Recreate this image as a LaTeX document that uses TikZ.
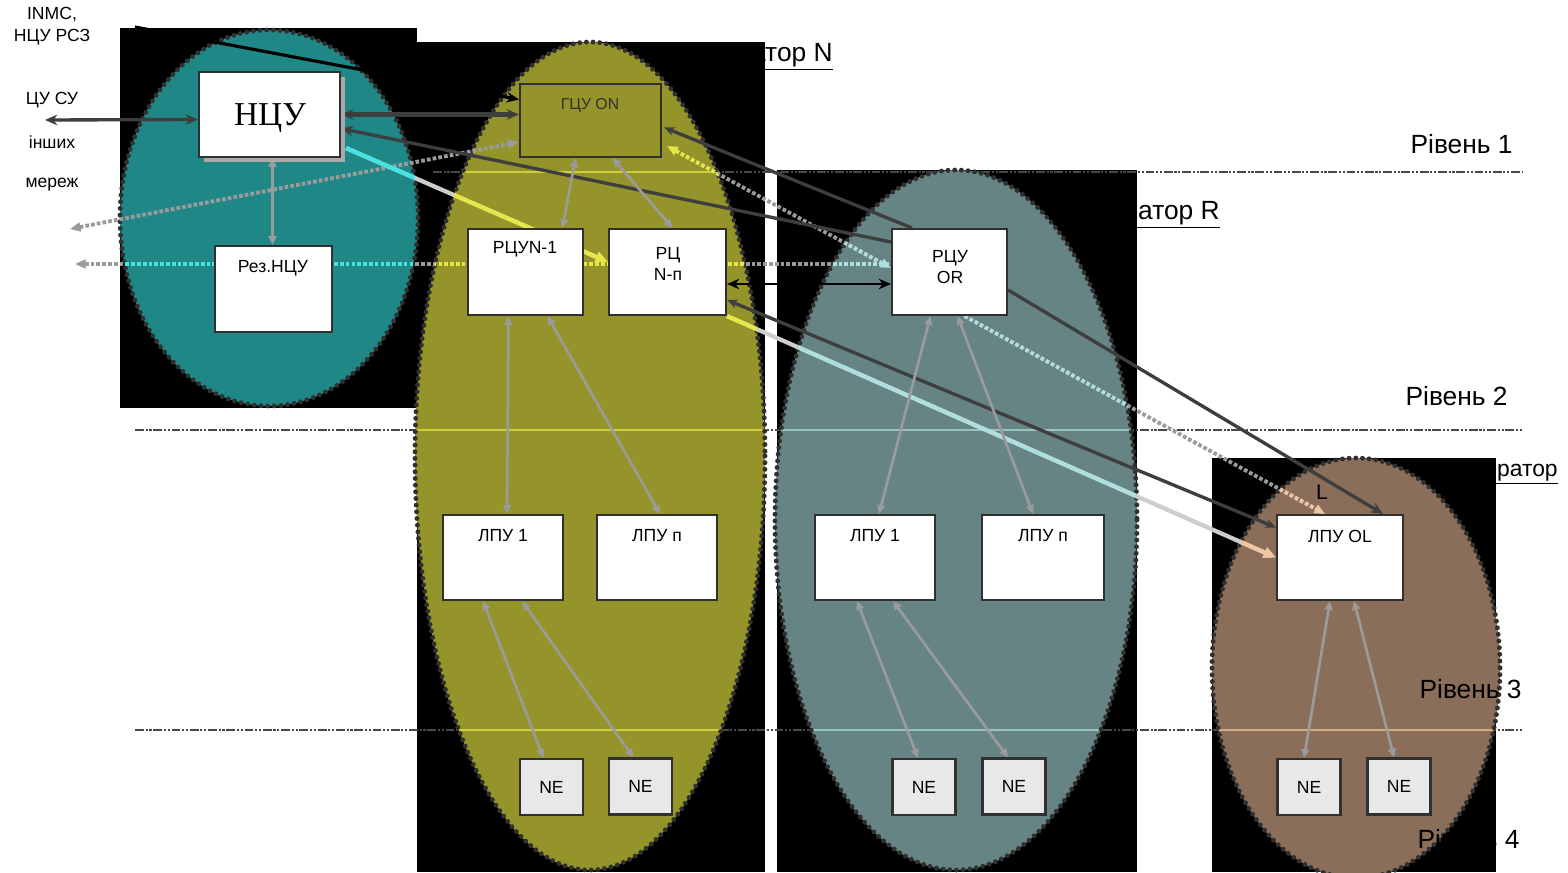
\documentclass[tikz,border=0pt]{standalone}
\usepackage{fontspec}
\setmainfont{Liberation Sans}
\newfontfamily\serifcy{Liberation Serif}
\usetikzlibrary{arrows.meta,calc}
\pgfdeclarelayer{bg}
\pgfdeclarelayer{conn}
\pgfdeclarelayer{front}
\pgfsetlayers{bg,conn,main,front}

\definecolor{cTeal}{RGB}{32,135,135}
\definecolor{cOlive}{RGB}{148,148,42}
\definecolor{cGreyE}{RGB}{102,132,132}
\definecolor{cBrown}{RGB}{138,110,90}
\definecolor{cBorder}{RGB}{48,48,48}
\definecolor{cDark}{RGB}{62,62,62}
\definecolor{cGrey}{RGB}{155,155,155}
\definecolor{cLight}{RGB}{205,205,205}
\definecolor{cCyan}{RGB}{70,225,225}
\definecolor{cYellow}{RGB}{230,230,70}
\definecolor{cLCyan}{RGB}{175,222,222}
\definecolor{cPeach}{RGB}{238,198,160}
\definecolor{cLevel}{RGB}{72,72,72}
\definecolor{cNE}{RGB}{232,232,232}

\def\ellT{(269,218) ellipse [x radius=149, y radius=188]}
\def\ellO{(590,456) ellipse [x radius=175, y radius=414]}
\def\ellG{(956,520) ellipse [x radius=181, y radius=350]}
\def\ellB{(1356,668) ellipse [x radius=144, y radius=210]}

% #1 style, #2 path, #3..#6 colours inside teal, olive, grey, brown ovals
\newcommand{\multicolline}[6]{%
  \draw[#1] #2;
  \begin{scope}\clip \ellT; \draw[#1,draw=#3] #2; \end{scope}
  \begin{scope}\clip \ellO; \draw[#1,draw=#4] #2; \end{scope}
  \begin{scope}\clip \ellG; \draw[#1,draw=#5] #2; \end{scope}
  \begin{scope}\clip \ellB; \draw[#1,draw=#6] #2; \end{scope}
}

\begin{document}
\begin{tikzpicture}[x=0.02cm,y=-0.02cm,
  box/.style={draw=cBorder, line width=1.2pt, fill=white, inner sep=0pt},
  nebox/.style={box, fill=cNE, minimum width=1.26cm, minimum height=1.12cm, font=\fontsize{10}{12}\selectfont},
  lbl/.style={inner sep=0pt, align=center, font=\fontsize{10}{12}\selectfont},
  side/.style={inner sep=0pt, align=center, font=\fontsize{10}{12.5}\selectfont},
  levtxt/.style={inner sep=0pt, anchor=base east, font=\fontsize{15}{18}\selectfont},
  treeline/.style={draw=cGrey, line width=1.5pt, {Triangle[length=5pt,width=4.5pt]}-{Triangle[length=5pt,width=4.5pt]}},
  darkline/.style={draw=cDark, line width=1.9pt},
  dotline/.style={line width=2.2pt, dash pattern=on 2.1pt off 1.2pt},
  lightline/.style={draw=cLight, line width=2.4pt},
  levelline/.style={draw=cLevel, line width=1.4pt, dash pattern=on 5pt off 1pt on 1.2pt off 1pt on 1.2pt off 1pt},
  ovalborder/.style={draw=cBorder, line width=2.8pt, line cap=round, dash pattern=on 0pt off 3.8pt}
]
\useasboundingbox (0,0) rectangle (1568,872);

% ---------- background: black panels, level lines, ovals ----------
\begin{pgfonlayer}{bg}
  \fill[white] (0,0) rectangle (1568,872);
  \fill[black] (120,28) rectangle (417,408);
  \fill[black] (417,42) rectangle (765,872);
  \fill[black] (777,170) rectangle (1137,872);
  \fill[black] (1212,458) rectangle (1496,872);
  \draw[levelline] (433,172) -- (1522,172);
  \draw[levelline] (135,430) -- (1522,430);
  \draw[levelline] (135,730) -- (1522,730);
  \fill[cTeal] \ellT;
  \fill[cOlive] \ellO;
  \fill[cGreyE] \ellG;
  \fill[cBrown] \ellB;
  \begin{scope}\clip \ellO;
    \draw[cYellow!70!cOlive, line width=0.6pt] (400,172) -- (780,172) (400,430) -- (780,430) (400,730) -- (780,730);
  \end{scope}
  \begin{scope}\clip \ellG;
    \draw[cLCyan!70!cGreyE, line width=0.6pt] (770,430) -- (1140,430) (770,730) -- (1140,730);
  \end{scope}
  \begin{scope}\clip \ellB;
    \draw[cPeach!70!cBrown, line width=0.6pt] (1200,730) -- (1510,730);
  \end{scope}
  \draw[ovalborder] \ellT;
  \draw[ovalborder] \ellO;
  \draw[ovalborder] \ellG;
  \draw[ovalborder] \ellB;
\end{pgfonlayer}

% ---------- nodes ----------
\node[fill=cGrey!85, inner sep=0pt, minimum width=2.82cm, minimum height=1.70cm] (ncushadow) at (274.5,119.5) {};
\node[box, minimum width=2.82cm, minimum height=1.70cm] (ncu) at (269.5,114.5) {};
\node[inner sep=0pt, font=\serifcy\fontsize{19}{22}\selectfont] (ncutext) at (270,118) {НЦУ};
\node[box, minimum width=2.34cm, minimum height=1.72cm] (rez) at (273.5,289) {};
\node[lbl] (reztext) at (273,268) {Рез.НЦУ};

\node[box, fill=none, minimum width=2.82cm, minimum height=1.46cm] (gcu) at (590.5,120.5) {};
\node[lbl, text=cBorder, font=\fontsize{9}{11}\selectfont] (gcutext) at (590,106) {ГЦУ ON};

\node[box, minimum width=2.30cm, minimum height=1.72cm] (rcun1) at (525.5,272) {};
\node[lbl] (rcun1text) at (525,249) {РЦУN-1};
\node[box, minimum width=2.34cm, minimum height=1.72cm] (rcnp) at (667.5,272) {};
\node[lbl] (rcnptext) at (668,264) {РЦ\\N-п};
\node[box, minimum width=2.30cm, minimum height=1.72cm] (rcuor) at (949.5,272) {};
\node[lbl] (rcuortext) at (950,267) {РЦУ\\OR};

\node[box, minimum width=2.40cm, minimum height=1.70cm] (lpu1N) at (503,557.5) {};
\node[lbl] (lpu1Ntext) at (503,536) {ЛПУ 1};
\node[box, minimum width=2.40cm, minimum height=1.70cm] (lpunN) at (657,557.5) {};
\node[lbl] (lpunNtext) at (657,536) {ЛПУ п};
\node[box, minimum width=2.40cm, minimum height=1.70cm] (lpu1R) at (875,557.5) {};
\node[lbl] (lpu1Rtext) at (875,536) {ЛПУ 1};
\node[box, minimum width=2.44cm, minimum height=1.70cm] (lpunR) at (1043,557.5) {};
\node[lbl] (lpunRtext) at (1043,536) {ЛПУ п};
\node[box, minimum width=2.52cm, minimum height=1.70cm] (lpuOL) at (1340,557.5) {};
\node[lbl] (lpuOLtext) at (1340,536) {ЛПУ OL};

\node[nebox] (neN1) at (551.5,787) {NE};
\node[nebox] (neN2) at (640.5,786.5) {NE};
\node[nebox] (neR1) at (924,787) {NE};
\node[nebox] (neR2) at (1014,786.5) {NE};
\node[nebox] (neL1) at (1309,787) {NE};
\node[nebox] (neL2) at (1399,786.5) {NE};

\node[side] (inmc) at (52,26) {INMC,\\НЦУ РСЗ};
\node[side] (cusu) at (52,100) {ЦУ СУ};
\node[side] (inshykh) at (52,142) {інших};
\node[side] (merezh) at (52,185) {мереж};

\coordinate (cuend) at (45,120);
\coordinate (inmcend) at (135,27);
\coordinate (leftA) at (70,229);
\coordinate (leftB) at (75,264);

% ---------- connectors ----------
\begin{pgfonlayer}{conn}
  % dotted links
  \multicolline{dotline,draw=cGrey,{Triangle[length=6pt,width=5pt]}-}
    {(leftB) -- ($(rcuor.west)+(0,-8)$)}{cCyan}{cYellow}{cLCyan}{cPeach}
  \draw[dotline,draw=cGrey,{Triangle[length=6pt,width=5pt]}-{Triangle[length=6pt,width=5pt]}]
    (leftA) -- ($(gcu.south west)+(0,-16)$);
  \multicolline{dotline,draw=cGrey,{Triangle[length=6pt,width=5pt]}-{Triangle[length=6pt,width=5pt]}}
    {($(gcu.south east)+(5,-12)$) -- ($(rcuor.west)+(0,-4)$)}{cGrey}{cYellow}{cLCyan}{cPeach}
  \multicolline{dotline,draw=cGrey,-{Triangle[length=6pt,width=5pt]}}
    {($(rcuor.south)+(15,0)$) -- ($(lpuOL.north)+(-15,0)$)}{cGrey}{cGrey}{cLCyan}{cPeach}
  % light links
  \multicolline{lightline,-{Triangle[length=7pt,width=6pt]}}
    {($(ncu.south east)+(5,-10)$) -- ($(rcnp.west)+(0,-10)$)}{cCyan}{cYellow}{cLCyan}{cPeach}
  \multicolline{lightline,-{Triangle[length=7pt,width=6pt]}}
    {(rcnp.south east) -- (lpuOL.west)}{cCyan}{cYellow}{cLCyan}{cPeach}
  % dark links
  \draw[darkline,{Stealth[length=7pt,width=6pt]}-{Stealth[length=7pt,width=6pt]}] ($(ncu.west)+(0,5)$) -- (cuend);
  \draw[darkline,line width=2.3pt,{Stealth[length=7pt,width=6pt]}-{Stealth[length=7pt,width=6pt]}] (ncu.east) -- ($(gcu.west)+(0,-6)$);
  \draw[darkline,{Stealth[length=7pt,width=6pt]}-] ($(ncu.east)+(0,14)$) -- ($(rcuor.west)+(0,-30)$);
  \draw[darkline,{Stealth[length=6pt,width=5pt]}-] ($(gcu.east)+(2,7)$) -- ($(rcuor.north west)+(21,0)$);
  \draw[darkline,-{Stealth[length=7pt,width=6pt]}] ($(rcuor.east)+(0,18)$) -- ($(lpuOL.north)+(43,0)$);
  \draw[darkline,{Stealth[length=6pt,width=5pt]}-{Stealth[length=6pt,width=5pt]}] ($(rcnp.east)+(0,28)$) -- ($(lpuOL.west)+(0,-30)$);
  \draw[black,line width=1.8pt,-{Stealth[length=7pt,width=6pt]}] (inmcend) -- ($(gcu.west)+(0,-21)$);
  \draw[black,line width=1.6pt,{Stealth[length=7pt,width=6pt]}-{Stealth[length=7pt,width=6pt]}] ($(rcnp.east)+(0,12)$) -- ($(rcuor.west)+(0,12)$);
  % tree links
  \draw[treeline] ($(ncu.south)+(3,0)$) -- ($(rez.north)+(-1,0)$);
  \draw[treeline] ($(gcu.south)+(-15,0)$) -- ($(rcun1.north)+(37,0)$);
  \draw[treeline] ($(gcu.south)+(22,0)$) -- ($(rcnp.north)+(5,0)$);
  \draw[treeline] ($(rcun1.south)+(-17,0)$) -- ($(lpu1N.north)+(4,0)$);
  \draw[treeline] ($(rcun1.south)+(22,0)$) -- ($(lpunN.north)+(3,0)$);
  \draw[treeline] ($(lpu1N.south)+(-20,0)$) -- ($(neN1.north)+(-8,0)$);
  \draw[treeline] ($(lpu1N.south)+(19,0)$) -- ($(neN2.north)+(-7,0)$);
  \draw[treeline] ($(rcuor.south)+(-19,0)$) -- ($(lpu1R.north)+(4,0)$);
  \draw[treeline] ($(rcuor.south)+(8,0)$) -- ($(lpunR.north)+(-10,0)$);
  \draw[treeline] ($(lpu1R.south)+(-18,0)$) -- ($(neR1.north)+(-6,0)$);
  \draw[treeline] ($(lpu1R.south)+(18,0)$) -- ($(neR2.north)+(-6,0)$);
  \draw[treeline] ($(lpuOL.south)+(-10,0)$) -- ($(neL1.north)+(-5,0)$);
  \draw[treeline] ($(lpuOL.south)+(14,0)$) -- ($(neL2.north)+(-5,0)$);
\end{pgfonlayer}

% ---------- titles and level labels ----------
\begin{pgfonlayer}{front}
  \node[levtxt] (opN) at (833,61) {\underline{Оператор N}};
  \node[levtxt] (opR) at (1220,219) {\underline{Оператор R}};
  \node[levtxt, font=\fontsize{13}{16}\selectfont] (opL) at (1558,476) {\underline{Оператор}};
  \node[inner sep=0pt, font=\fontsize{12}{14}\selectfont] (opLL) at (1322,492) {L};
  \node[levtxt] (lev1) at (1513,153) {Рівень 1};
  \node[levtxt] (lev2) at (1508,405) {Рівень 2};
  \node[levtxt] (lev3) at (1522,698) {Рівень 3};
  \node[levtxt] (lev4) at (1520,848) {Рівень 4};
\end{pgfonlayer}
\end{tikzpicture}
\end{document}
